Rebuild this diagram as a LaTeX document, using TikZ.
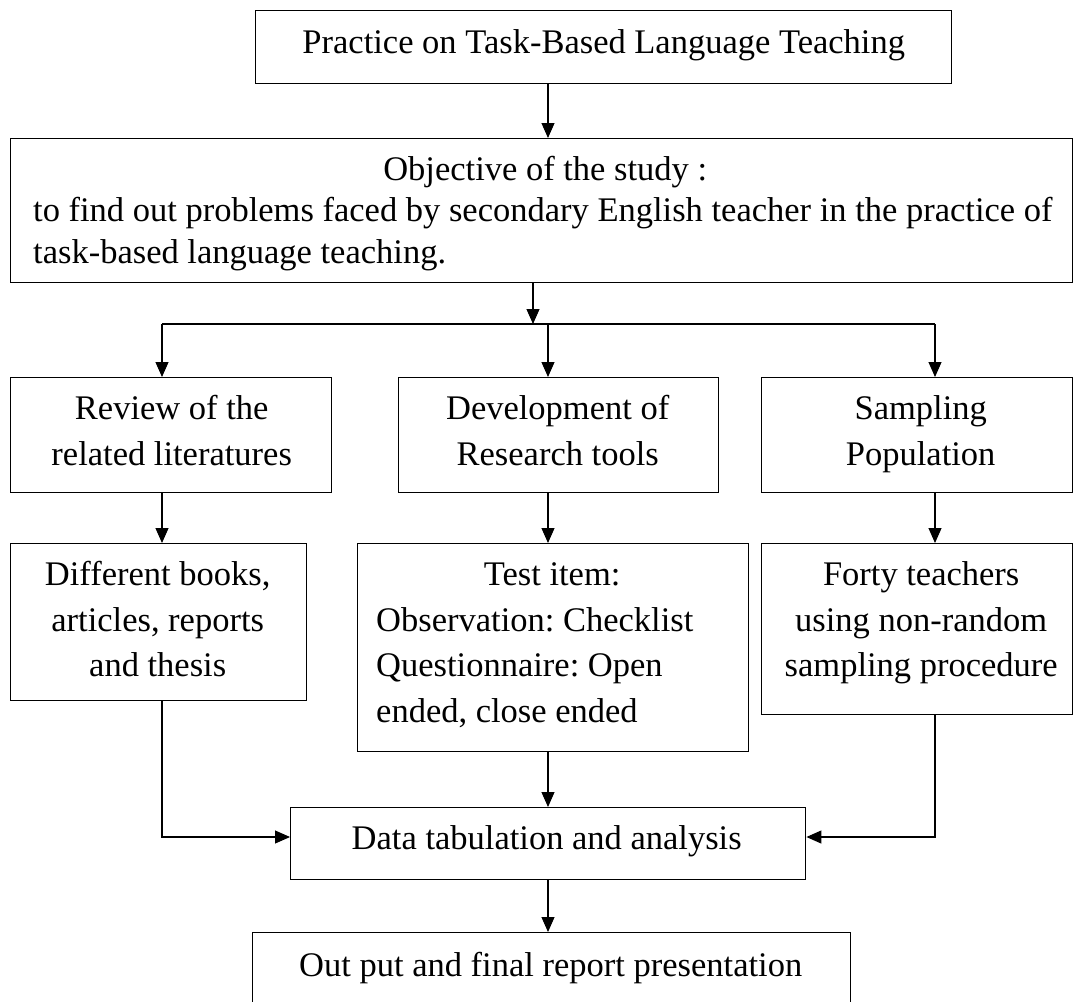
\documentclass[tikz,border=0pt]{standalone}
\usepackage{fontspec}
\setmainfont{Liberation Serif}
\usetikzlibrary{arrows.meta}
\setlength{\parindent}{0pt}
\frenchspacing
\newcommand{\fstrut}{\rule{0pt}{30pt}}
\begin{document}
\begin{tikzpicture}[x=1pt,y=-1pt,
  box/.style={draw, line width=1.4pt, inner sep=0pt, anchor=north west},
  txt/.style={inner sep=0pt, anchor=north, align=center, font=\fontsize{34.5}{45.5}\selectfont\frenchspacing},
  conn/.style={line width=1.1pt, -{Triangle[length=15pt,width=13pt]}},
  cline/.style={line width=1.1pt}]
\useasboundingbox (0,0) rectangle (1075,1001);
\clip (0,0) rectangle (1075,1001);
\coordinate (lx) at (162,0);
\coordinate (mx) at (548,0);
\coordinate (ox) at (533,0);
\coordinate (rx) at (935,0);
\coordinate (hb) at (0,324);
\coordinate (dy) at (0,837);
% boxes
\node[box, minimum width=696pt, minimum height=73pt] (top) at (255,10) {};
\node[box, minimum width=1062pt, minimum height=144pt] (obj) at (10,138) {};
\node[box, minimum width=321pt, minimum height=115pt] (rev) at (10,377) {};
\node[box, minimum width=320pt, minimum height=115pt] (dev) at (398,377) {};
\node[box, minimum width=311pt, minimum height=115pt] (smp) at (761,377) {};
\node[box, minimum width=296pt, minimum height=157pt] (bks) at (10,543) {};
\node[box, minimum width=391pt, minimum height=208pt] (tst) at (357,543) {};
\node[box, minimum width=311pt, minimum height=171pt] (fty) at (761,543) {};
\node[box, minimum width=515pt, minimum height=72pt] (dat) at (290,807) {};
\node[box, minimum width=598pt, minimum height=95pt] (out) at (252,932) {};
% texts
\node[txt] (topt) at ([yshift=-13pt]top.north) {\fstrut Practice on Task-Based Language Teaching};
\node[txt, anchor=north west, align=left, font=\fontsize{34.5}{41.5}\selectfont\frenchspacing] (objt) at ([xshift=23pt,yshift=-12pt]obj.north west) {\fstrut\makebox[1024pt][c]{Objective of the study :}\\to find out problems faced by secondary English teacher in the practice of\\task-based language teaching.};
\node[txt] (revt) at ([xshift=0.5pt,yshift=-12.5pt]rev.north) {\fstrut Review of the\\related literatures};
\node[txt] (devt) at ([xshift=-1pt,yshift=-12.5pt]dev.north) {\fstrut Development of\\Research tools};
\node[txt] (smpt) at ([xshift=3.5pt,yshift=-12.5pt]smp.north) {\fstrut Sampling\\Population};
\node[txt] (bkst) at ([xshift=-1pt,yshift=-12.5pt]bks.north) {\fstrut Different books,\\articles, reports\\and thesis};
\node[txt, anchor=north west, align=left] (tstt) at ([xshift=19pt,yshift=-12.5pt]tst.north west) {\fstrut\makebox[352pt][c]{Test item:}\\Observation: Checklist\\Questionnaire: Open\\ended, close ended};
\node[txt] (ftyt) at ([xshift=4pt,yshift=-12.5pt]fty.north) {\fstrut Forty teachers\\using non-random\\sampling procedure};
\node[txt] (datt) at ([xshift=-1.5pt,yshift=-12.5pt]dat.north) {\fstrut Data tabulation and analysis};
\node[txt] (outt) at ([xshift=-1pt,yshift=-14pt]out.north) {\fstrut Out put and final report presentation};
% connectors
\draw[conn] (top.south -| mx) -- (obj.north -| mx);
\draw[conn] (obj.south -| ox) -- (ox |- hb);
\draw[cline] (lx |- hb) -- (rx |- hb);
\draw[conn] (lx |- hb) -- (rev.north -| lx);
\draw[conn] (mx |- hb) -- (dev.north -| mx);
\draw[conn] (rx |- hb) -- (smp.north -| rx);
\draw[conn] (rev.south -| lx) -- (bks.north -| lx);
\draw[conn] (dev.south -| mx) -- (tst.north -| mx);
\draw[conn] (smp.south -| rx) -- (fty.north -| rx);
\draw[conn] (bks.south -| lx) -- (lx |- dy) -- (dat.west |- dy);
\draw[conn] (fty.south -| rx) -- (rx |- dy) -- (dat.east |- dy);
\draw[conn] (tst.south -| mx) -- (dat.north -| mx);
\draw[conn] (dat.south -| mx) -- (out.north -| mx);
\end{tikzpicture}
\end{document}
